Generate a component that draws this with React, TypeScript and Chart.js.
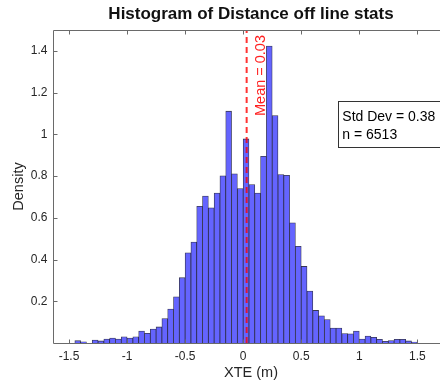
import React, { useEffect, useRef } from "react";
import { Chart, registerables } from "chart.js";

Chart.register(...registerables);

// Histogram bins (centres, bin width 0.05 m)
const BIN_CENTERS = [
  -1.425, -1.375, -1.325, -1.275, -1.225, -1.175, -1.125, -1.075, -1.025, -0.975,
  -0.925, -0.875, -0.825, -0.775, -0.725, -0.675, -0.625, -0.575, -0.525, -0.475,
  -0.425, -0.375, -0.325, -0.275, -0.225, -0.175, -0.125, -0.075, -0.025, 0.025,
  0.075, 0.125, 0.175, 0.225, 0.275, 0.325, 0.375, 0.425, 0.475, 0.525,
  0.575, 0.625, 0.675, 0.725, 0.775, 0.825, 0.875, 0.925, 0.975, 1.025,
  1.075, 1.125, 1.175, 1.225, 1.275, 1.325, 1.375, 1.425, 1.475,
];

// Density per bin
const DENSITY = [
  0.011, 0.006, 0.0, 0.014, 0.010, 0.019, 0.024, 0.019, 0.030, 0.024,
  0.030, 0.057, 0.046, 0.067, 0.077, 0.117, 0.163, 0.221, 0.313, 0.432,
  0.484, 0.655, 0.704, 0.648, 0.719, 0.801, 1.111, 0.811, 0.740, 0.978,
  0.759, 0.719, 0.895, 1.423, 1.090, 0.807, 0.804, 0.576, 0.463, 0.367,
  0.249, 0.156, 0.130, 0.112, 0.072, 0.072, 0.045, 0.044, 0.057, 0.019,
  0.033, 0.027, 0.018, 0.008, 0.012, 0.018, 0.018, 0.010, 0.005,
];

const X_TICKS = [-1.5, -1, -0.5, 0, 0.5, 1, 1.5];
const X_TICK_LABELS = ["-1.5", "-1", "-0.5", "0", "0.5", "1", "1.5"];
const Y_TICKS = [0.2, 0.4, 0.6, 0.8, 1, 1.2, 1.4];
const Y_TICK_LABELS = ["0.2", "0.4", "0.6", "0.8", "1", "1.2", "1.4"];

const X_MIN = -1.638;
const X_MAX = 1.773;
const Y_MIN = 0;
const Y_MAX = 1.5;

const MEAN = 0.03;
const STD_DEV = 0.38;
const N_SAMPLES = 6513;

const TITLE = "Histogram of Distance off line stats";
const X_LABEL = "XTE (m)";
const Y_LABEL = "Density";

const FONT = '"Liberation Sans", Arial, Helvetica, sans-serif';
const TEXT_COLOR = "#262626";
const AXIS_COLOR = "#6a6a6a";

const overlayPlugin = {
  id: "overlay",
  afterDraw(chart: any) {
    const { ctx, chartArea: a, scales } = chart;
    const x = scales.x;
    const y = scales.y;
    ctx.save();

    // axes box + inward ticks
    ctx.strokeStyle = AXIS_COLOR;
    ctx.lineWidth = 1;
    ctx.beginPath();
    const L = Math.round(a.left) + 0.5;
    const B = Math.round(a.bottom) + 0.5;
    const T = Math.round(a.top) + 0.5;
    const R = Math.round(a.right) - 0.5;
    ctx.moveTo(L, T);
    ctx.lineTo(L, B);
    ctx.moveTo(L, B);
    ctx.lineTo(R, B);
    ctx.moveTo(L, T);
    ctx.lineTo(R, T);
    ctx.moveTo(R, T);
    ctx.lineTo(R, B);
    X_TICKS.forEach((v) => {
      const px = Math.round(x.getPixelForValue(v)) + 0.5;
      ctx.moveTo(px, B);
      ctx.lineTo(px, B - 4);
      ctx.moveTo(px, T);
      ctx.lineTo(px, T + 4);
    });
    Y_TICKS.forEach((v) => {
      const py = Math.round(y.getPixelForValue(v)) + 0.5;
      ctx.moveTo(L, py);
      ctx.lineTo(L + 4, py);
      ctx.moveTo(R, py);
      ctx.lineTo(R - 4, py);
    });
    ctx.stroke();

    // mean label (rotated)
    const mx = x.getPixelForValue(MEAN);
    ctx.save();
    ctx.translate(mx + 14.3, a.top + 5);
    ctx.rotate(-Math.PI / 2);
    ctx.font = `14.5px ${FONT}`;
    ctx.fillStyle = "#ff2020";
    ctx.textAlign = "right";
    ctx.textBaseline = "middle";
    ctx.fillText(`Mean = ${MEAN.toFixed(2)}`, 0, 0);
    ctx.restore();

    // stats box
    const bx = 338.5;
    const by = 101.5;
    const bw = 140;
    const bh = 46;
    ctx.fillStyle = "#ffffff";
    ctx.fillRect(bx, by, bw, bh);
    ctx.strokeStyle = "#333333";
    ctx.lineWidth = 1;
    ctx.strokeRect(bx, by, bw, bh);
    ctx.font = `14px ${FONT}`;
    ctx.fillStyle = "#000000";
    ctx.textAlign = "left";
    ctx.textBaseline = "middle";
    ctx.fillText(`Std Dev = ${STD_DEV.toFixed(2)}`, 342.3, 116.7);
    ctx.fillText(`n = ${N_SAMPLES}`, 342.3, 135);

    ctx.restore();
  },
};

export default function App() {
  const ref = useRef<HTMLCanvasElement>(null);

  useEffect(() => {
    const canvas = ref.current;
    if (!canvas) return;
    const chart = new Chart(canvas, {
      type: "bar",
      data: {
        datasets: [
          {
            type: "line",
            data: [
              { x: MEAN, y: Y_MIN },
              { x: MEAN, y: Y_MAX },
            ],
            borderColor: "rgba(255,0,0,0.8)",
            borderWidth: 2,
            borderDash: [6, 4],
            pointRadius: 0,
            order: 0,
          } as any,
          {
            type: "bar",
            data: BIN_CENTERS.map((c, i) => ({ x: c, y: DENSITY[i] })),
            backgroundColor: "rgb(100,100,255)",
            borderColor: "rgba(20,20,50,0.85)",
            borderWidth: 0.8,
            borderSkipped: "start",
            barPercentage: 1,
            categoryPercentage: 1,
            order: 1,
          } as any,
        ],
      },
      options: {
        responsive: false,
        animation: false,
        devicePixelRatio: 1,
        layout: { padding: { left: 0, right: 11, top: 0, bottom: 0 } },
        plugins: {
          legend: { display: false },
          tooltip: { enabled: false },
          title: {
            display: true,
            text: TITLE,
            color: "#111111",
            font: { family: FONT, size: 17, weight: "bold" },
            padding: { top: 4, bottom: 5.6 },
            fullSize: false,
          } as any,
        },
        scales: {
          x: {
            type: "linear",
            min: X_MIN,
            max: X_MAX,
            offset: false,
            grid: { display: false, drawTicks: false },
            border: { display: false },
            afterBuildTicks: (s: any) => {
              s.ticks = X_TICKS.map((v) => ({ value: v }));
            },
            afterFit: (s: any) => {
              s.height = 40;
            },
            ticks: {
              autoSkip: false,
              maxRotation: 0,
              minRotation: 0,
              padding: 6,
              color: TEXT_COLOR,
              font: { family: FONT, size: 12 },
              callback: (v: any) => {
                const i = X_TICKS.indexOf(Number(v));
                return i >= 0 ? X_TICK_LABELS[i] : "";
              },
            },
            title: {
              display: true,
              text: X_LABEL,
              color: TEXT_COLOR,
              font: { family: FONT, size: 14.5 },
              padding: { top: 0, bottom: 1 },
            },
          } as any,
          y: {
            type: "linear",
            min: Y_MIN,
            max: Y_MAX,
            grid: { display: false, drawTicks: false },
            border: { display: false },
            afterBuildTicks: (s: any) => {
              s.ticks = Y_TICKS.map((v) => ({ value: v }));
            },
            afterFit: (s: any) => {
              s.width = 53;
            },
            ticks: {
              autoSkip: false,
              padding: 5.5,
              color: TEXT_COLOR,
              font: { family: FONT, size: 12 },
              callback: (v: any) => {
                const i = Y_TICKS.indexOf(Number(v));
                return i >= 0 ? Y_TICK_LABELS[i] : "";
              },
            },
            title: {
              display: true,
              text: Y_LABEL,
              color: TEXT_COLOR,
              font: { family: FONT, size: 14.5 },
              padding: { top: 10.3, bottom: 0 },
            },
          } as any,
        },
      },
      plugins: [overlayPlugin],
    });
    return () => chart.destroy();
  }, []);

  return (
    <div
      style={{
        position: "fixed",
        left: 0,
        top: 0,
        width: 440,
        height: 383,
        overflow: "hidden",
        background: "#ffffff",
      }}
    >
      <canvas
        ref={ref}
        width={460}
        height={383}
        style={{ display: "block", width: 460, height: 383 }}
      />
    </div>
  );
}
